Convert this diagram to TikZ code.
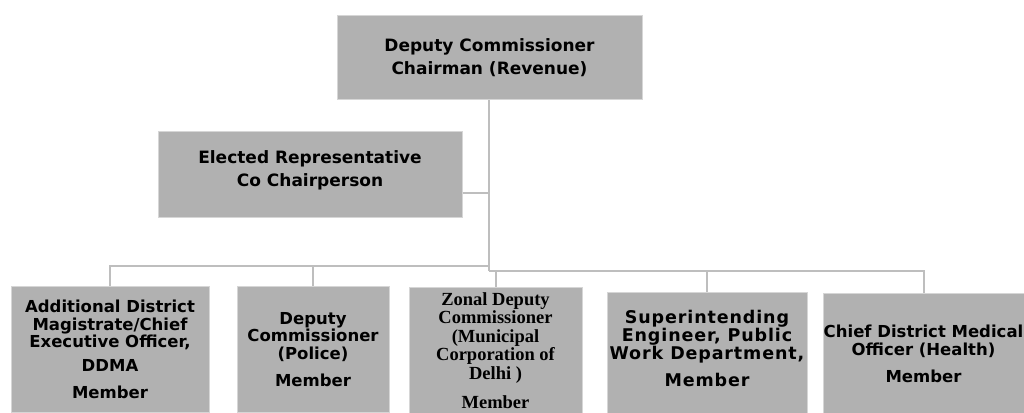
\documentclass[tikz,border=0pt]{standalone}
\usepackage{fontspec}
\setmainfont{DejaVu Sans}
\newfontfamily\mcdfont{Liberation Serif}
\usetikzlibrary{positioning}

\definecolor{boxgray}{RGB}{177,177,177}
\definecolor{edgegray}{RGB}{214,214,214}
\definecolor{linegray}{RGB}{190,190,190}

\begin{document}
\begin{tikzpicture}[x=1pt,y=-1pt,
    post/.style={draw=edgegray,line width=1pt,fill=boxgray,anchor=north,
      align=center,inner sep=0pt,font=\bfseries\fontsize{17}{23}\selectfont},
    member/.style={post,minimum height=126,
      font=\bfseries\fontsize{16.5}{17.5}\selectfont},
    link/.style={draw=linegray,line width=2pt}]
  \useasboundingbox (0,0) rectangle (1024,412);
  \clip (0,0) rectangle (1024,412);

  % Chairman and co-chair
  \node[post,minimum width=305,minimum height=84] (dc) at (489.5,15)
    {Deputy Commissioner\\Chairman (Revenue)};
  \node[post,minimum width=304,minimum height=86] (rep) at (310,131)
    {Elected Representative\\Co Chairperson\\[-12pt]\mbox{}};

  % Members
  \node[member,minimum width=198] (adm) at (110,286)
    {Additional District\\Magistrate/Chief\\Executive Officer,\\[6pt]DDMA\\[10pt]Member};
  \node[member,minimum width=152] (police) at (313,286)
    {Deputy\\Commissioner\\(Police)\\[10pt]Member};
  \node[member,minimum width=173,font=\mcdfont\bfseries\fontsize{18.5}{18.5}\selectfont]
    (mcd) at (495.5,287)
    {Zonal Deputy\\Commissioner\\(Municipal\\Corporation of\\Delhi )\\[11pt]Member};
  \node[member,minimum width=200,
    font=\bfseries\fontsize{17.5}{17}\selectfont\addfontfeatures{LetterSpace=5}]
    (pwd) at (707,292)
    {Superintending\\Engineer, Public\\Work Department,\\[10pt]Member\\[-2pt]\mbox{}};
  \node[member,minimum width=201] (cdmo) at (923.5,293)
    {Chief District Medical\\Officer (Health)\\[10pt]Member\\[-12pt]\mbox{}};

  % Connectors
  \coordinate (hub) at (489,271);
  \coordinate (split) at (489,266);
  \coordinate (repjoin) at (489,193);
  \draw[link] (dc.south -| hub) -- (hub);
  \draw[link] (rep.east |- repjoin) -- (repjoin);
  \draw[link] (split) -| (adm.north);
  \draw[link] (split -| police.north) -- (police.north);
  \draw[link] (hub) -| (cdmo.north);
  \draw[link] (hub -| mcd.north) -- (mcd.north);
  \draw[link] (hub -| pwd.north) -- (pwd.north);
\end{tikzpicture}
\end{document}
